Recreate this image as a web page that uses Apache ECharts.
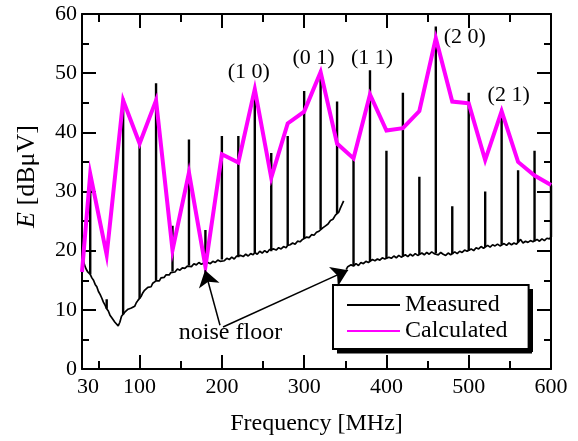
<!DOCTYPE html>
<html>
<head>
<meta charset="utf-8">
<script src="https://cdn.jsdelivr.net/npm/echarts@6/dist/echarts.min.js"></script>
<style>html,body{margin:0;padding:0;background:#fff}#c{width:578px;height:441px}</style>
</head>
<body>
<div id="c"></div>
<script>
// ---- data ----
var calcFreq = [30,40,60,80,100,120,140,160,180,200,220,240,260,280,300,320,340,360,380,400,420,440,460,480,500,520,540,560,580,600];
var calcLevel = [16.4,33.0,19.3,45.4,38.1,45.4,20.1,33.2,17.3,36.3,34.9,47.3,32.3,41.5,43.5,50.2,38.1,35.6,46.4,40.3,40.7,43.6,55.9,45.2,44.9,35.3,43.6,35.0,32.7,31.1];

// measured noise floor, band 1 (30-350 MHz)
var noiseBand1 = [[30,19.6],[31,19.0],[33,17.6],[35,16.9],[37,16.4],[40,16.0],[42,15.4],[44,15.0],[46,14.3],[48,13.9],[50,13.1],[52,12.6],[54,12.0],[56,11.3],[58,10.8],[60,10.2],[62,9.8],[64,9.1],[66,8.7],[68,8.4],[70,7.9],[72,8.1],[74,7.3],[76,7.9],[78,8.9],[80,9.2],[82,9.6],[84,9.3],[86,10.1],[88,9.8],[90,10.3],[92,10.0],[94,10.6],[96,11.2],[98,11.6],[100,11.9],[102,12.3],[104,12.9],[106,13.3],[108,13.2],[110,13.8],[112,14.1],[114,13.9],[116,14.5],[118,14.4],[120,14.9],[122,15.1],[124,14.9],[126,15.4],[128,15.6],[130,15.5],[132,15.9],[134,16.1],[136,15.9],[138,16.3],[140,16.5],[143,16.4],[146,16.9],[149,16.7],[152,17.1],[155,17.0],[158,17.4],[160,17.5],[163,17.3],[166,17.8],[169,17.6],[172,18.0],[175,17.7],[178,17.9],[180,17.6],[183,18.0],[186,17.8],[189,18.2],[192,18.0],[195,18.4],[198,18.2],[200,18.5],[203,18.3],[206,18.7],[209,18.5],[212,18.9],[215,18.6],[218,19.1],[220,18.9],[223,19.2],[226,19.0],[229,19.4],[232,19.1],[235,19.5],[238,19.3],[240,19.7],[243,19.4],[246,19.9],[249,19.6],[252,20.0],[255,19.7],[258,20.2],[260,19.9],[263,20.3],[266,20.1],[269,20.5],[272,20.3],[275,20.7],[278,20.5],[280,20.9],[283,21.0],[286,21.3],[289,21.1],[292,21.6],[295,21.5],[298,21.9],[300,22.0],[303,22.3],[306,22.2],[309,22.7],[312,22.6],[315,23.1],[318,23.3],[320,23.6],[323,23.9],[326,24.2],[329,24.5],[332,25.1],[335,25.3],[338,26.0],[340,26.3],[342,26.5],[344,27.2],[346,27.4],[348,28.4]];

// measured noise floor, band 2 (350-600 MHz)
var noiseBand2 = [[351,16.8],[353,17.3],[355,17.0],[357,17.6],[360,17.4],[363,17.8],[366,17.5],[369,18.0],[372,17.8],[375,18.2],[378,18.0],[380,18.2],[383,18.5],[386,18.3],[389,18.6],[392,18.4],[395,18.8],[398,18.6],[400,18.7],[403,18.9],[406,18.7],[409,19.1],[412,18.8],[415,19.2],[418,18.9],[420,19.0],[423,19.3],[426,19.0],[429,19.4],[432,19.1],[435,19.5],[438,19.2],[440,19.4],[443,19.6],[446,19.3],[449,19.7],[452,19.4],[455,19.8],[458,19.5],[460,19.6],[463,19.3],[466,19.7],[469,19.4],[472,19.2],[475,19.6],[478,19.3],[480,19.4],[483,19.8],[486,19.5],[489,19.9],[492,19.7],[495,20.1],[498,19.9],[500,20.0],[503,20.3],[506,20.0],[509,20.5],[512,20.3],[515,20.7],[518,20.4],[520,20.6],[523,20.9],[526,20.6],[529,21.0],[532,20.8],[535,21.1],[538,20.8],[540,21.0],[543,21.2],[546,20.9],[549,21.3],[552,21.0],[555,21.3],[558,21.1],[560,21.4],[563,21.9],[566,21.3],[569,21.6],[572,21.4],[575,21.7],[578,21.5],[580,21.6],[583,21.9],[586,21.6],[589,22.0],[592,21.7],[595,22.1],[598,22.0],[600,22.3]];

// measured emission spikes: [frequency, peak level]
var spikes = [[40,32.0],[60,11.8],[80,45.7],[100,38.1],[120,48.3],[140,24.2],[160,38.8],[180,23.5],[200,39.4],[220,39.4],[240,46.8],[260,36.5],[280,39.4],[300,47.0],[320,50.5],[340,45.2],[360,35.5],[380,50.5],[400,36.9],[420,46.7],[440,32.5],[460,57.9],[480,27.5],[500,46.7],[520,30.0],[540,44.0],[560,33.6],[580,36.9],[600,31.0]];

var xTickLabels = [30,100,200,300,400,500,600];
var xMajorTicks = [100,200,300,400,500];
var xMinorTicks = [50,150,250,350,450,550];

var modeLabels = [
  {name:'(1 0)', f:240, v:47.3, dx:-6, dy:-17},
  {name:'(0 1)', f:320, v:50.2, dx:-7, dy:-14},
  {name:'(1 1)', f:380, v:46.4, dx:2, dy:-36},
  {name:'(2 0)', f:460, v:55.9, dx:29, dy:-1},
  {name:'(2 1)', f:540, v:43.6, dx:7, dy:-16}
];

// ---- build series data ----
var FONT = 'Liberation Serif';
var calcData = calcFreq.map(function(f,i){return [f, calcLevel[i]];});
var allNoise = noiseBand1.concat(noiseBand2);
var noiseData = noiseBand1.concat([[349,'-']]).concat(noiseBand2);
function baseAt(f){
  for (var i=0;i<allNoise.length;i++){ if (allNoise[i][0]===f) return allNoise[i][1]; }
  return null;
}
var spikeData = [];
spikes.forEach(function(s){
  spikeData.push([s[0], baseAt(s[0])]);
  spikeData.push([s[0], s[1]]);
  spikeData.push([s[0], '-']);
});

var blackLine = {color:'#000', width:2};
function xAxisDef(pos, ticks, len, showLine, labels){
  return {
    type:'value', position:pos, min:30, max:600,
    axisLine:{show:showLine, onZero:false, lineStyle:blackLine},
    axisTick:{show:true, inside:true, length:len, customValues:ticks, lineStyle:blackLine},
    axisLabel: labels ? {
      show:true, customValues:xTickLabels, margin:7, color:'#000',
      fontFamily:FONT, fontSize:22,
      formatter:function(v){ return v===30 ? '{s|30}' : String(v); },
      rich:{s:{padding:[0,0,0,12], fontFamily:FONT, fontSize:22, color:'#000'}}
    } : {show:false},
    splitLine:{show:false}
  };
}
var xAxes = [
  xAxisDef('bottom', xMajorTicks, 14, true, true),
  xAxisDef('bottom', xMinorTicks, 8, false, false),
  xAxisDef('top', xMajorTicks, 14, true, false),
  xAxisDef('top', xMinorTicks, 8, false, false)
];
xAxes[0].name = 'Frequency [MHz]';
xAxes[0].nameLocation = 'middle';
xAxes[0].nameGap = 43;
xAxes[0].nameTextStyle = {fontFamily:FONT, fontSize:24, color:'#000'};

function yAxisDef(pos, labels){
  return {
    type:'value', position:pos, min:0, max:60, interval:10,
    axisLine:{show:true, onZero:false, lineStyle:blackLine},
    axisTick:{show:true, inside:true, length:14, lineStyle:blackLine},
    minorTick:{show:true, splitNumber:2, length:7, lineStyle:blackLine},
    axisLabel: labels ? {show:true, margin:5, color:'#000', fontFamily:FONT, fontSize:22} : {show:false},
    splitLine:{show:false}, minorSplitLine:{show:false}
  };
}
var yAxes = [yAxisDef('left', true), yAxisDef('right', false)];
yAxes[0].name = '{i|E} [dBμV]';
yAxes[0].nameLocation = 'middle';
yAxes[0].nameGap = 42;
yAxes[0].nameTextStyle = {fontFamily:FONT, fontSize:26, color:'#000', padding:[0,0,0,30],
  rich:{i:{fontStyle:'italic', fontFamily:FONT, fontSize:26, color:'#000'}}};

var chart = echarts.init(document.getElementById('c'), null, {renderer:'canvas'});

// legend box drop shadow strips (right and bottom), placed through the axes
var GRID_L = 82, GRID_T = 14, GRID_R = 578 - 27, GRID_B = 441 - 72;
function pxToData(px, py){
  return [30 + (px - GRID_L) / (GRID_R - GRID_L) * 570, (GRID_B - py) / (GRID_B - GRID_T) * 60];
}
var shadowRight = pxToData(531, 320.5);
var shadowBottom = pxToData(434.5, 351.5);

chart.setOption({
  animation:false,
  backgroundColor:'#fff',
  grid:{left:GRID_L, right:27, top:GRID_T, bottom:72, containLabel:false},
  xAxis:xAxes,
  yAxis:yAxes,
  legend:{
    data:['Measured','Calculated'], orient:'vertical', left:333, top:285,
    itemWidth:53, itemHeight:2, itemGap:2,
    padding:[8,21,6,13],
    backgroundColor:'#fff', borderColor:'#000', borderWidth:2, borderRadius:0,
    textStyle:{fontFamily:FONT, fontSize:24, color:'#000'},
    selectedMode:false
  },
  series:[
    {
      name:'Measured', type:'line', xAxisIndex:0, yAxisIndex:0,
      data:noiseData, showSymbol:false, symbol:'none', connectNulls:false,
      lineStyle:{color:'#000', width:1.7}, itemStyle:{color:'#000'},
      z:2,
      markLine:{
        silent:true, symbol:['none','arrow'], symbolSize:16,
        lineStyle:{color:'#000', width:1.5, type:'solid'},
        itemStyle:{color:'#000'},
        label:{show:false},
        data:[
          [{coord:[197.7,7.4]},{coord:[179.5,16.7]}],
          [{coord:[201.4,7.1]},{coord:[353.3,16.7]}]
        ]
      },
      markPoint:{
        silent:true, symbol:'circle', symbolSize:0,
        label:{show:true, formatter:'{b}', color:'#000', fontFamily:FONT, fontSize:24},
        data:[{name:'noise floor', coord:[210.5,6.1]}]
      }
    },
    {
      name:'spikes', type:'line', xAxisIndex:0, yAxisIndex:0,
      data:spikeData, showSymbol:false, symbol:'none', connectNulls:false,
      lineStyle:{color:'#000', width:2.4}, z:3
    },
    {
      name:'Calculated', type:'line', xAxisIndex:0, yAxisIndex:0,
      data:calcData, showSymbol:false, symbol:'none',
      lineStyle:{color:'#ff00ff', width:4, join:'miter'}, itemStyle:{color:'#ff00ff'},
      z:4,
      markPoint:{
        silent:true, symbol:'circle', symbolSize:0,
        label:{show:true, formatter:'{b}', color:'#000', fontFamily:FONT, fontSize:22},
        data:modeLabels.map(function(m){
          return {name:m.name, coord:[m.f, m.v], label:{offset:[m.dx, m.dy]}};
        })
      }
    },
    {
      name:'legendShadow', type:'scatter', xAxisIndex:0, yAxisIndex:0, z:20, silent:true,
      symbol:'rect', itemStyle:{color:'#000', opacity:1},
      data:[
        {value:shadowRight, symbolSize:[4,63]},
        {value:shadowBottom, symbolSize:[195,4]}
      ]
    }
  ]
});
</script>
</body>
</html>
